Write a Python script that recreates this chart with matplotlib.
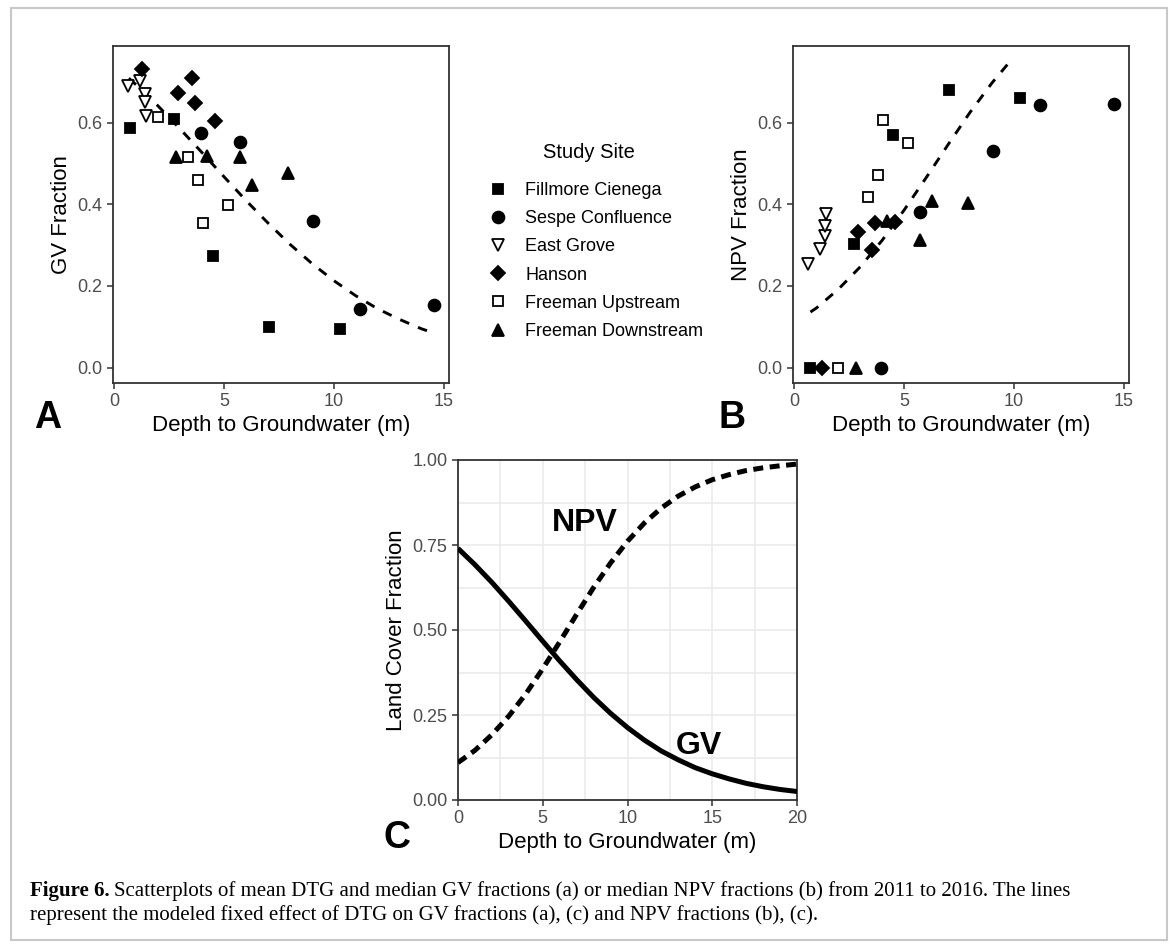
import numpy as np
import matplotlib
matplotlib.use('Agg')
import matplotlib.pyplot as plt
from matplotlib.patches import Rectangle

plt.rcParams['font.family'] = ['Liberation Sans', 'DejaVu Sans']

# site data: mean depth to groundwater (m), median GV and NPV fractions
site_names = ['Fillmore Cienega', 'Sespe Confluence', 'East Grove', 'Hanson',
              'Freeman Upstream', 'Freeman Downstream']

fillmore_dtg = [0.7, 2.7, 4.5, 7.05, 10.3]
fillmore_gv = [0.586, 0.610, 0.273, 0.100, 0.095]
fillmore_npv = [0.0, 0.302, 0.570, 0.680, 0.660]

sespe_dtg = [3.95, 5.7, 9.03, 11.2, 14.55]
sespe_gv = [0.574, 0.553, 0.359, 0.144, 0.153]
sespe_npv = [0.0, 0.380, 0.531, 0.643, 0.645]

eastgrove_dtg = [0.63, 1.16, 1.38, 1.41, 1.46]
eastgrove_gv = [0.690, 0.703, 0.670, 0.651, 0.615]
eastgrove_npv = [0.254, 0.290, 0.322, 0.347, 0.375]

hanson_dtg = [1.25, 2.9, 3.55, 3.65, 4.6]
hanson_gv = [0.730, 0.672, 0.709, 0.648, 0.603]
hanson_npv = [0.0, 0.332, 0.288, 0.355, 0.357]

upstream_dtg = [2.0, 3.37, 3.83, 4.05, 5.16]
upstream_gv = [0.614, 0.516, 0.460, 0.353, 0.398]
upstream_npv = [0.0, 0.419, 0.472, 0.607, 0.551]

downstream_dtg = [2.8, 4.2, 5.72, 6.29, 7.9]
downstream_gv = [0.516, 0.519, 0.516, 0.447, 0.476]
downstream_npv = [0.0, 0.359, 0.312, 0.408, 0.404]

# modeled fixed effect curves
curve_dtg = [0, 1, 2, 3, 4, 5, 6, 7, 8, 9, 10, 11, 12, 13, 14, 15, 16, 17, 18, 19, 20]
gv_fit = [0.740, 0.692, 0.640, 0.584, 0.526, 0.467, 0.409, 0.354, 0.302, 0.255, 0.213,
          0.176, 0.144, 0.118, 0.095, 0.077, 0.062, 0.049, 0.039, 0.031, 0.025]
npv_fit = [0.110, 0.146, 0.192, 0.247, 0.312, 0.386, 0.465, 0.546, 0.625, 0.697, 0.761,
           0.815, 0.859, 0.894, 0.921, 0.942, 0.957, 0.969, 0.977, 0.983, 0.988]

dtg_all = [fillmore_dtg, sespe_dtg, eastgrove_dtg, hanson_dtg, upstream_dtg, downstream_dtg]
gv_all = [fillmore_gv, sespe_gv, eastgrove_gv, hanson_gv, upstream_gv, downstream_gv]
npv_all = [fillmore_npv, sespe_npv, eastgrove_npv, hanson_npv, upstream_npv, downstream_npv]

# marker, facecolor, size
styles = [('s', 'black', 7), ('o', 'black', 8.5), ('v', 'white', 9),
          ('D', 'black', 7.5), ('s', 'white', 7), ('^', 'black', 8.5)]

W, H = 1173, 948
fig = plt.figure(figsize=(W / 100, H / 100), dpi=100)

def px_axes(l, t, r, b):
    return fig.add_axes([l / W, 1 - b / H, (r - l) / W, (b - t) / H])

def style_axes(ax):
    for s in ax.spines.values():
        s.set_color('#333333')
        s.set_linewidth(1.3)
    ax.tick_params(direction='out', length=4.5, width=1.1, color='#333333',
                   labelsize=13, labelcolor='#4D4D4D', pad=3)

lo = min(min(d) for d in dtg_all)
hi = max(max(d) for d in dtg_all)
pad = 0.05 * (hi - lo)

def scatter_panel(ax, yvals, fit, ylabel):
    handles = []
    for dtg, yv, (m, fc, ms), name in zip(dtg_all, yvals, styles, site_names):
        h, = ax.plot(dtg, yv, linestyle='none', marker=m, markerfacecolor=fc,
                     markeredgecolor='black', markersize=ms, markeredgewidth=1.3,
                     label=name, zorder=3)
        handles.append(h)
    ln, = ax.plot(curve_dtg, fit, color='black', lw=2.1, linestyle=(0, (3.3, 3.3)), zorder=2)
    clip = Rectangle((lo, 0), hi - lo, 0.75, transform=ax.transData)
    ln.set_clip_path(clip)
    ax.set_xlim(lo - pad, hi + pad)
    ax.set_ylim(-0.0375, 0.7875)
    ax.set_xticks([0, 5, 10, 15])
    ax.set_yticks([0.0, 0.2, 0.4, 0.6])
    ax.set_yticklabels(['0.0', '0.2', '0.4', '0.6'])
    ax.set_xlabel('Depth to Groundwater (m)', fontsize=16, labelpad=3)
    ax.set_ylabel(ylabel, fontsize=16, labelpad=4)
    style_axes(ax)
    return handles

axA = px_axes(113, 46, 449, 383)
handles = scatter_panel(axA, gv_all, gv_fit, 'GV Fraction')
axB = px_axes(793, 46, 1129, 383)
scatter_panel(axB, npv_all, npv_fit, 'NPV Fraction')

# panel C
axC = px_axes(458, 460, 797, 800)
axC.plot(curve_dtg, gv_fit, color='black', lw=3.6, solid_capstyle='butt', zorder=3)
axC.plot(curve_dtg, npv_fit, color='black', lw=3.6, linestyle=(0, (2.0, 1.3)), zorder=3)
axC.set_xlim(0, 20)
axC.set_ylim(0, 1)
axC.set_xticks([0, 5, 10, 15, 20])
axC.set_xticks([2.5, 7.5, 12.5, 17.5], minor=True)
axC.set_yticks([0, 0.25, 0.5, 0.75, 1.0])
axC.set_yticks([0.125, 0.375, 0.625, 0.875], minor=True)
axC.set_yticklabels(['0.00', '0.25', '0.50', '0.75', '1.00'])
axC.grid(True, which='both', color='#EBEBEB', lw=1.2, zorder=0)
axC.tick_params(which='minor', length=0)
axC.set_axisbelow(True)
axC.text(7.5, 0.815, 'NPV', fontsize=23, fontweight='bold', ha='center', va='center')
axC.text(14.2, 0.16, 'GV', fontsize=23, fontweight='bold', ha='center', va='center')
axC.set_xlabel('Depth to Groundwater (m)', fontsize=16, labelpad=3)
axC.set_ylabel('Land Cover Fraction', fontsize=16, labelpad=4)
style_axes(axC)

# legend (title drawn separately to get the wider gap)
fig.text(589 / W, 1 - 152 / H, 'Study Site', fontsize=14.5, ha='center', va='center')
leg = fig.legend(handles=handles, loc='upper left', bbox_to_anchor=(480 / W, 1 - 173 / H),
                 frameon=False, fontsize=13, handlelength=1.0, handletextpad=1.0,
                 labelspacing=0.62, borderpad=0)

# panel letters
fig.text(48 / W, 1 - 418 / H, 'A', fontsize=27, fontweight='bold', ha='center', va='center')
fig.text(732 / W, 1 - 418 / H, 'B', fontsize=27, fontweight='bold', ha='center', va='center')
fig.text(397 / W, 1 - 838 / H, 'C', fontsize=27, fontweight='bold', ha='center', va='center')

# frame
fig.patches.append(Rectangle((11 / W, 1 - 940 / H), 1156 / W, 932 / H, transform=fig.transFigure,
                             fill=False, edgecolor='#C8C8C8', lw=1.5))

# caption
cap_font = ['Liberation Serif', 'DejaVu Serif']
t1 = fig.text(30 / W, 1 - 891 / H, 'Figure 6.', fontsize=15, fontweight='bold',
              family=cap_font, ha='left', va='center')
fig.canvas.draw()
bb = t1.get_window_extent()
fig.text(bb.x1 / W + 4 / W, 1 - 891 / H,
         'Scatterplots of mean DTG and median GV fractions (a) or median NPV fractions (b) '
         'from 2011 to 2016. The lines', fontsize=15, family=cap_font, ha='left', va='center')
fig.text(30 / W, 1 - 915 / H,
         'represent the modeled fixed effect of DTG on GV fractions (a), (c) and NPV fractions (b), (c).',
         fontsize=15, family=cap_font, ha='left', va='center')

fig.savefig('out.png', dpi=100)
